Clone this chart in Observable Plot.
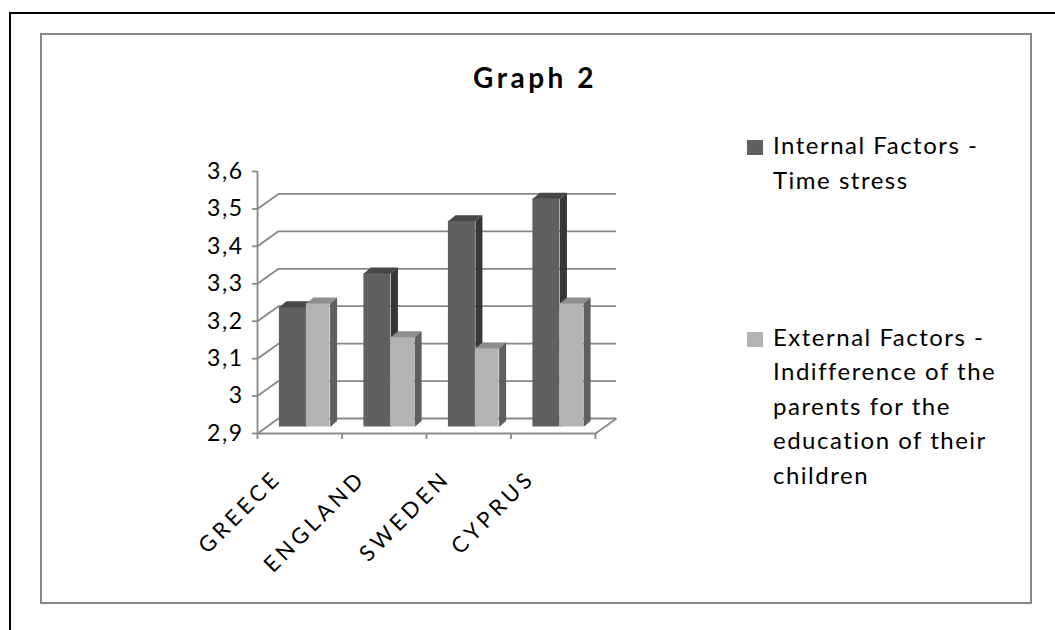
<!DOCTYPE html>
<html>
<head>
<meta charset="utf-8">
<script src="https://cdn.jsdelivr.net/npm/d3@7"></script>
<script src="https://cdn.jsdelivr.net/npm/@observablehq/plot@0.6"></script>
<style>
  html, body { margin: 0; padding: 0; background: #fff; width: 1055px; height: 630px; overflow: hidden; font-family: Lato, "Open Sans", sans-serif; color: #000; }
  #outer { position: absolute; left: 9px; top: 12px; width: 1200px; height: 800px; border: 2px solid #000; box-sizing: border-box; }
  #inner { position: absolute; left: 40px; top: 33px; width: 992px; height: 571px; border: 2px solid #878787; box-sizing: border-box; }
  #title { position: absolute; left: 335px; width: 400px; top: 63px; text-align: center; font-weight: 700; font-size: 28px; line-height: 28px; letter-spacing: 3.5px; }
  #chart { position: absolute; left: 180px; top: 150px; }
  .entry { position: absolute; left: 747px; }
  .swatch { position: absolute; left: 0; width: 16px; height: 15px; }
  .label { position: absolute; left: 26px; white-space: nowrap; font-size: 24px; line-height: 34.5px; letter-spacing: 1.5px; }
</style>
</head>
<body>
<div id="outer"></div>
<div id="inner"></div>
<div id="title">Graph 2</div>
<div id="chart"></div>
<div id="legend"></div>
<script>
// Survey averages per country for the two factor groups
const categories = ["GREECE", "ENGLAND", "SWEDEN", "CYPRUS"];
const internalFactors = [3.22, 3.31, 3.45, 3.51];
const externalFactors = [3.23, 3.14, 3.11, 3.23];
const internalLabel = ["Internal Factors -", "Time stress"];
const externalLabel = ["External Factors -", "Indifference of the", "parents for the", "education of their", "children"];
const yTicks = [2.9, 3.0, 3.1, 3.2, 3.3, 3.4, 3.5, 3.6];
const baseValue = 2.9;

// Plot frame
const W = 460, H = 430, ML = 77, MR = 45, MT = 21, MB = 147;
const xDomain = [0, categories.length];
const yDomain = [yTicks[0], yTicks[yTicks.length - 1]];
const pxPerX = (W - ML - MR) / (xDomain[1] - xDomain[0]);
const pxPerY = (H - MT - MB) / (yDomain[1] - yDomain[0]);

// Pseudo-3D offsets (pixels): back wall, plane of the columns, column depth
const wall = {dx: 21, dy: 15};
const plane = {dx: 5, dy: 6.5};
const depth = {dx: 7, dy: 6};
const gridColor = "#888888";

const series = [
  {name: "internal", values: internalFactors, from: -0.30, to: 0.02, front: "#606060", top: "#474747", side: "#373737"},
  {name: "external", values: externalFactors, from: 0.02, to: 0.30, front: "#b3b3b3", top: "#8e8e8e", side: "#5f5f5f"}
];

const ex = depth.dx / pxPerX, ey = depth.dy / pxPerY;
const wallTicks = yTicks.slice(0, -1);

const columnMarks = series.flatMap(s => {
  const bars = categories.map((c, i) => ({id: c, x1: i + 0.5 + s.from, x2: i + 0.5 + s.to, v: s.values[i]}));
  const poly = (b, pts) => pts.map(([x, y]) => ({id: b.id, x, y}));
  const tops = bars.flatMap(b => poly(b, [[b.x1, b.v], [b.x2, b.v], [b.x2 + ex, b.v + ey], [b.x1 + ex, b.v + ey]]));
  const sides = bars.flatMap(b => poly(b, [[b.x2, baseValue], [b.x2, b.v], [b.x2 + ex, b.v + ey], [b.x2 + ex, baseValue + ey]]));
  const off = {dx: plane.dx, dy: -plane.dy};
  return [
    Plot.rect(bars, {x1: "x1", x2: "x2", y1: () => baseValue, y2: "v", fill: s.front, ...off}),
    Plot.line(tops, {x: "x", y: "y", z: "id", fill: s.top, stroke: "none", curve: "linear-closed", ...off}),
    Plot.line(sides, {x: "x", y: "y", z: "id", fill: s.side, stroke: "none", curve: "linear-closed", ...off})
  ];
});

const fmt = d => String(+d.toFixed(1)).replace(".", ",");

const chart = Plot.plot({
  width: W,
  height: H,
  marginLeft: ML,
  marginRight: MR,
  marginTop: MT,
  marginBottom: MB,
  style: {fontFamily: "Lato, 'Open Sans', sans-serif", background: "transparent", overflow: "visible", color: "#000"},
  x: {type: "linear", domain: xDomain, label: null},
  y: {type: "linear", domain: yDomain, label: null},
  marks: [
    // back wall gridlines and floor back edge
    Plot.ruleY(wallTicks, {dx: wall.dx, dy: -wall.dy, stroke: gridColor, strokeWidth: 1.8}),
    // side wall diagonals
    Plot.link(wallTicks, {x1: () => 0, y1: d => d, x2: () => wall.dx / pxPerX, y2: d => d + wall.dy / pxPerY, stroke: gridColor, strokeWidth: 1.8}),
    Plot.link([baseValue], {x1: () => xDomain[1], y1: d => d, x2: () => xDomain[1] + wall.dx / pxPerX, y2: d => d + wall.dy / pxPerY, stroke: gridColor, strokeWidth: 1.8}),
    // front axis lines
    Plot.ruleX([xDomain[0]], {stroke: gridColor, strokeWidth: 1.8}),
    Plot.ruleY([baseValue], {stroke: gridColor, strokeWidth: 1.8}),
    Plot.axisY({ticks: yTicks, tickFormat: fmt, tickSize: 5, tickPadding: 9, fontSize: 23, stroke: gridColor, strokeWidth: 1.8, fill: "#000", label: null}),
    Plot.axisX({ticks: d3.range(xDomain[0], xDomain[1] + 1), tickFormat: () => "", tickSize: 6, stroke: gridColor, strokeWidth: 1.8, label: null}),
    ...columnMarks,
    // rotated category labels
    Plot.text(categories.map((c, i) => ({c, x: i + 0.5, y: baseValue})), {
      x: "x", y: "y", text: "c", dx: -22, dy: 41, rotate: -45,
      textAnchor: "end", lineAnchor: "middle", fontSize: 22, fill: "#000"
    })
  ]
});

d3.select(chart).selectAll('g[aria-label="text"] text').attr("letter-spacing", "4px");
d3.select(chart).selectAll('g[aria-label="y-axis tick label"] text').attr("letter-spacing", "1.5px");
document.getElementById("chart").appendChild(chart);

// Legend
const legend = document.getElementById("legend");
[
  {lines: internalLabel, color: series[0].front, top: 128},
  {lines: externalLabel, color: series[1].front, top: 319.5}
].forEach(e => {
  const entry = document.createElement("div");
  entry.className = "entry";
  entry.style.top = e.top + "px";
  const sw = document.createElement("div");
  sw.className = "swatch";
  sw.style.background = e.color;
  sw.style.top = "12px";
  const lab = document.createElement("div");
  lab.className = "label";
  lab.style.top = "0px";
  lab.innerHTML = e.lines.join("<br>");
  entry.appendChild(sw);
  entry.appendChild(lab);
  legend.appendChild(entry);
});
</script>
</body>
</html>
